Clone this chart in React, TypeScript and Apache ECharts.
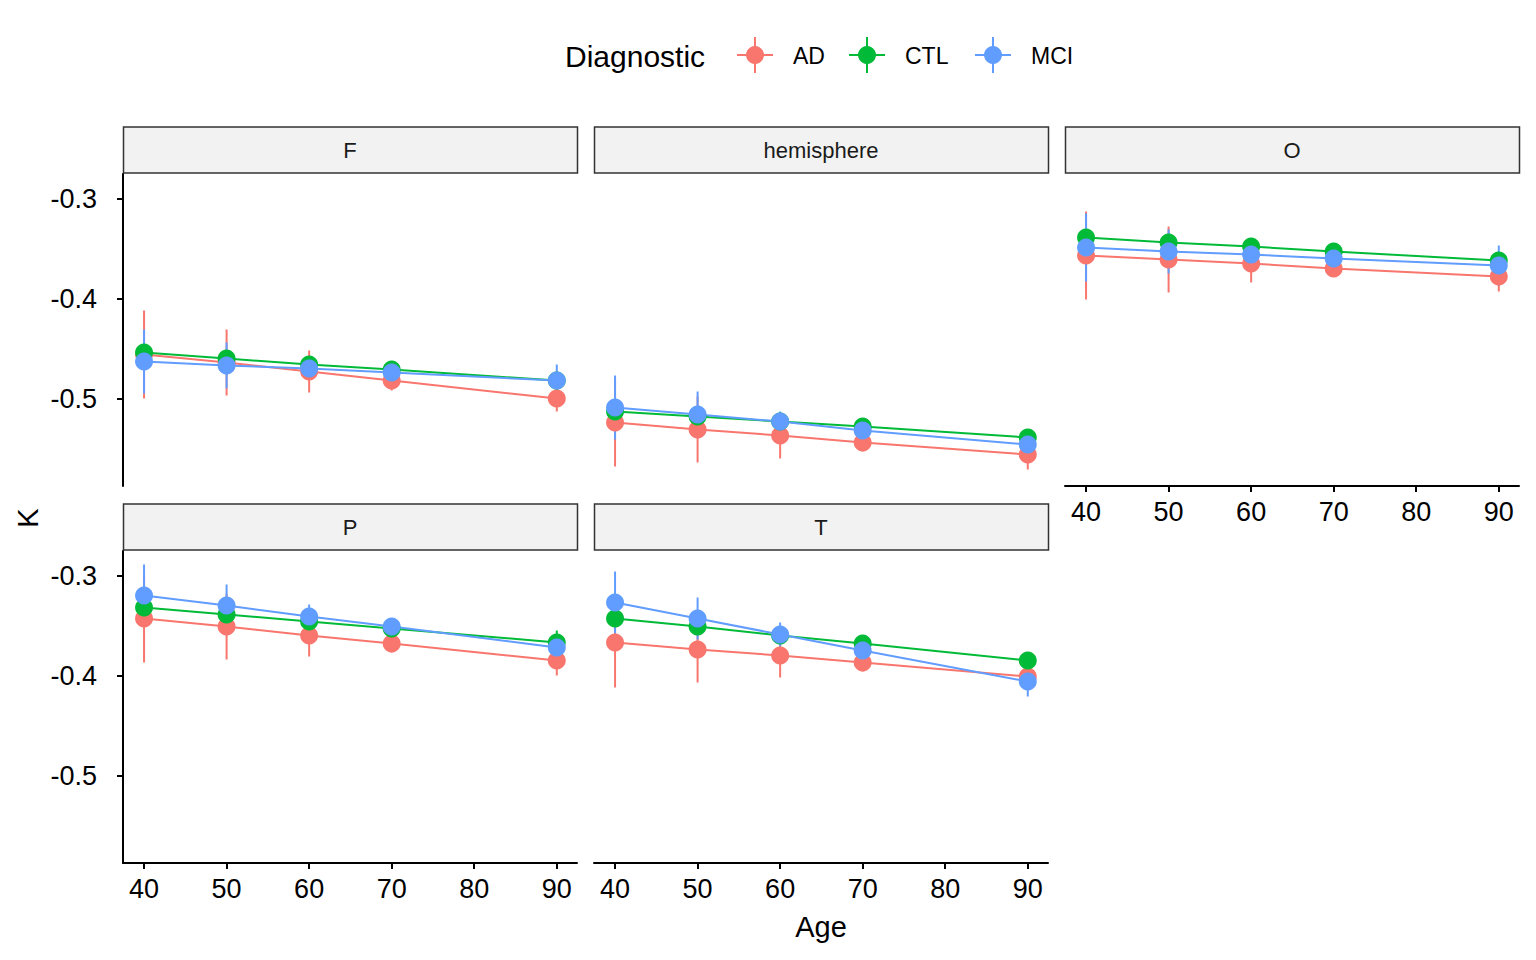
import React, { useEffect, useRef } from "react";
import * as echarts from "echarts";

const ages = [40, 50, 60, 70, 90];
const groups = ["AD", "CTL", "MCI"];
const colors = ["#F8766D", "#00BA38", "#619CFF"];
const panels = ["F", "hemisphere", "O", "P", "T"];

// mean K per panel per group
const meanF = { AD: [-0.456, -0.464, -0.473, -0.482, -0.5], CTL: [-0.454, -0.46, -0.466, -0.471, -0.482], MCI: [-0.463, -0.467, -0.47, -0.474, -0.482] };
const meanHemi = { AD: [-0.524, -0.531, -0.537, -0.544, -0.556], CTL: [-0.513, -0.518, -0.523, -0.528, -0.539], MCI: [-0.509, -0.516, -0.523, -0.532, -0.546] };
const meanO = { AD: [-0.357, -0.361, -0.365, -0.37, -0.378], CTL: [-0.339, -0.344, -0.348, -0.353, -0.362], MCI: [-0.349, -0.353, -0.356, -0.36, -0.367] };
const meanP = { AD: [-0.343, -0.351, -0.36, -0.368, -0.385], CTL: [-0.332, -0.339, -0.346, -0.353, -0.367], MCI: [-0.32, -0.33, -0.341, -0.351, -0.372] };
const meanT = { AD: [-0.367, -0.374, -0.38, -0.387, -0.401], CTL: [-0.343, -0.351, -0.36, -0.368, -0.385], MCI: [-0.327, -0.343, -0.359, -0.375, -0.406] };
// half-width of error bars
const errF = { AD: [0.044, 0.033, 0.021, 0.01, 0.013], CTL: [0.006, 0.005, 0.005, 0.005, 0.007], MCI: [0.032, 0.023, 0.01, 0.007, 0.016] };
const errHemi = { AD: [0.044, 0.033, 0.023, 0.009, 0.015], CTL: [0.006, 0.005, 0.005, 0.005, 0.008], MCI: [0.032, 0.023, 0.01, 0.007, 0.012] };
const errO = { AD: [0.044, 0.033, 0.019, 0.008, 0.015], CTL: [0.006, 0.005, 0.005, 0.005, 0.006], MCI: [0.034, 0.022, 0.01, 0.007, 0.02] };
const errP = { AD: [0.044, 0.033, 0.021, 0.009, 0.015], CTL: [0.006, 0.005, 0.005, 0.005, 0.012], MCI: [0.031, 0.021, 0.012, 0.007, 0.011] };
const errT = { AD: [0.045, 0.033, 0.022, 0.009, 0.01], CTL: [0.006, 0.005, 0.006, 0.006, 0.006], MCI: [0.031, 0.021, 0.012, 0.008, 0.015] };

const means = [meanF, meanHemi, meanO, meanP, meanT];
const errs = [errF, errHemi, errO, errP, errT];
const yTicks = [-0.5, -0.4, -0.3];
const xTicks = [40, 50, 60, 70, 80, 90];

const gridPos = [
  { left: 123, top: 174 }, { left: 594, top: 174 }, { left: 1065, top: 174 },
  { left: 123, top: 551 }, { left: 594, top: 551 },
];
const showY = [true, false, false, true, false];
const showX = [false, false, true, true, true];

export default function App() {
  const ref = useRef<HTMLDivElement>(null);
  useEffect(() => {
    const chart = echarts.init(ref.current!, null, { renderer: "svg" });
    const font = "Liberation Sans, Arial, sans-serif";
    const grid = gridPos.map((g) => ({ left: g.left, top: g.top, width: 454, height: 312 }));
    const xAxis = gridPos.map((_, i) => ({
      type: "value", gridIndex: i, min: 37.45, max: 92.45,
      axisLine: { show: showX[i], onZero: false, lineStyle: { color: "#000", width: 2 } },
      axisTick: { show: showX[i], customValues: xTicks, length: 6, lineStyle: { color: "#000", width: 2 } },
      axisLabel: { show: showX[i], customValues: xTicks, color: "#000", fontSize: 27, fontFamily: font, margin: 12 },
      splitLine: { show: false },
    }));
    const yAxis = gridPos.map((_, i) => ({
      type: "value", gridIndex: i, min: -0.5875, max: -0.2755,
      axisLine: { show: showY[i], onZero: false, lineStyle: { color: "#000", width: 2 } },
      axisTick: { show: showY[i], customValues: yTicks, length: 6, lineStyle: { color: "#000", width: 2 } },
      axisLabel: { show: showY[i], customValues: yTicks, color: "#000", fontSize: 27, fontFamily: font, margin: 26, formatter: (v: number) => v.toFixed(1) },
      splitLine: { show: false },
    }));
    const series: any[] = [];
    panels.forEach((_, p) => {
      groups.forEach((g, k) => {
        const m = (means[p] as any)[g];
        const e = (errs[p] as any)[g];
        series.push({
          type: "custom", xAxisIndex: p, yAxisIndex: p, z: 2,
          data: ages.map((a, j) => [a, m[j] - e[j], m[j] + e[j]]),
          renderItem: (params: any, api: any) => {
            const a = api.coord([api.value(0), api.value(1)]);
            const b = api.coord([api.value(0), api.value(2)]);
            return { type: "line", shape: { x1: a[0], y1: a[1], x2: b[0], y2: b[1] }, style: { stroke: colors[k], lineWidth: 2 } };
          },
        });
        series.push({
          type: "line", xAxisIndex: p, yAxisIndex: p, z: 3,
          data: ages.map((a, j) => [a, m[j]]), symbol: "none",
          lineStyle: { color: colors[k], width: 2 },
        });
        series.push({
          type: "scatter", xAxisIndex: p, yAxisIndex: p, z: 4,
          data: ages.map((a, j) => [a, m[j]]), symbolSize: 18,
          itemStyle: { color: colors[k], opacity: 1 },
        });
      });
    });
    const graphic: any[] = [];
    gridPos.forEach((g, i) => {
      graphic.push({ type: "rect", shape: { x: g.left + 0.5, y: g.top - 47, width: 454, height: 46 }, style: { fill: "#f2f2f2", stroke: "#333", lineWidth: 1.5 } });
      graphic.push({ type: "text", x: g.left + 227, y: g.top - 24, style: { text: panels[i], fontSize: 22, fontFamily: font, fill: "#1a1a1a", align: "center", verticalAlign: "middle" } });
    });
    graphic.push({ type: "text", x: 565, y: 56, style: { text: "Diagnostic", fontSize: 30, fontFamily: font, fill: "#000", verticalAlign: "middle" } });
    const lx = [755, 867, 993];
    groups.forEach((g, k) => {
      graphic.push({ type: "line", shape: { x1: lx[k] - 18, y1: 55, x2: lx[k] + 18, y2: 55 }, style: { stroke: colors[k], lineWidth: 2 } });
      graphic.push({ type: "line", shape: { x1: lx[k], y1: 37, x2: lx[k], y2: 73 }, style: { stroke: colors[k], lineWidth: 2 } });
      graphic.push({ type: "circle", shape: { cx: lx[k], cy: 55, r: 9 }, style: { fill: colors[k] } });
      graphic.push({ type: "text", x: lx[k] + 38, y: 56, style: { text: g, fontSize: 23, fontFamily: font, fill: "#000", verticalAlign: "middle" } });
    });
    graphic.push({ type: "text", x: 821, y: 927, style: { text: "Age", fontSize: 29, fontFamily: font, fill: "#000", align: "center", verticalAlign: "middle" } });
    graphic.push({ type: "text", x: 28, y: 518, rotation: Math.PI / 2, style: { text: "K", fontSize: 29, fontFamily: font, fill: "#000", align: "center", verticalAlign: "middle" } });
    chart.setOption({ animation: false, backgroundColor: "#fff", grid, xAxis, yAxis, series, graphic });
    return () => chart.dispose();
  }, []);
  return <div ref={ref} style={{ position: "absolute", left: 0, top: 0, width: 1536, height: 960 }} />;
}
